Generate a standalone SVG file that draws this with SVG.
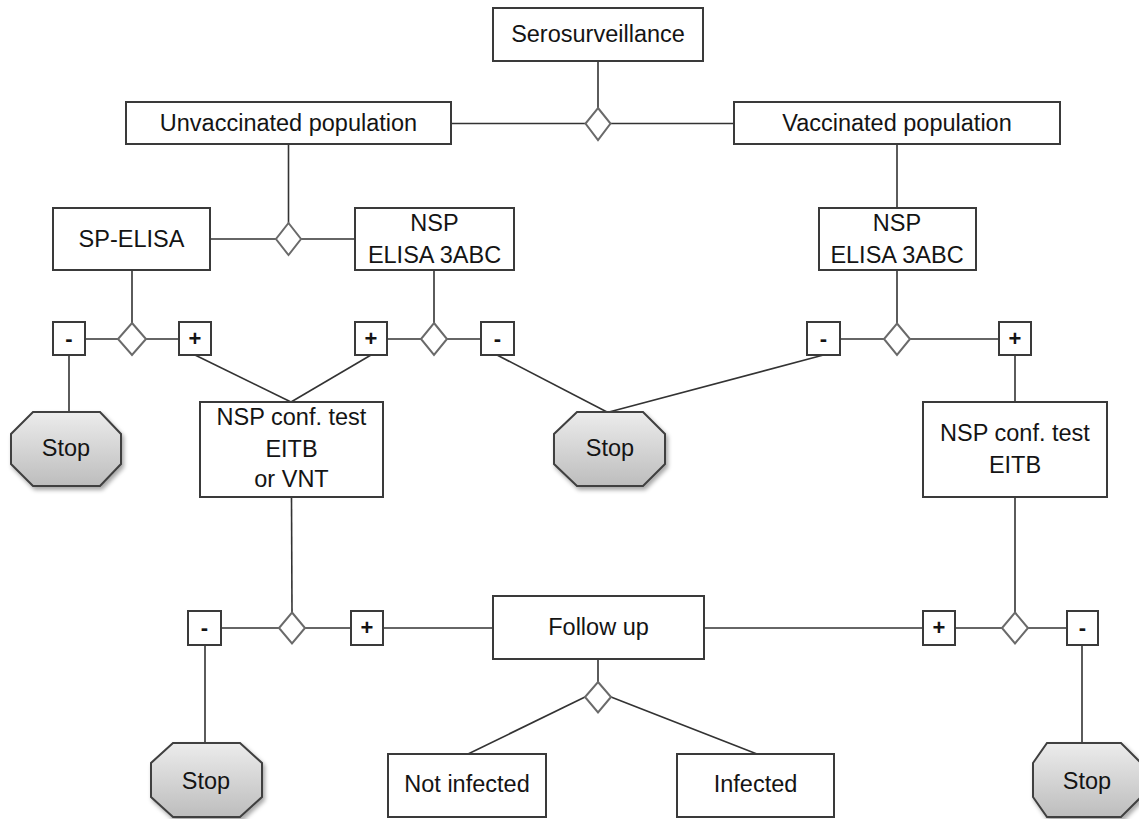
<svg xmlns="http://www.w3.org/2000/svg" width="1139" height="819" viewBox="0 0 1139 819">
<defs>
<style>
.box{fill:#fff;stroke:#3a3a3a;stroke-width:2}
.sign{fill:#fff;stroke:#3a3a3a;stroke-width:2}
.dia{fill:#fff;stroke:#6a6a6a;stroke-width:2}
.stop{fill:url(#stopGrad);stroke:#3f3f3f;stroke-width:2;filter:url(#shadow)}
.conn line,.conn polyline{stroke:#333;stroke-width:1.6;fill:none}
text{font-family:"Liberation Sans",Arial,sans-serif;font-size:23.5px;fill:#141414;text-anchor:middle}
text.s{font-weight:bold;font-size:22px}
</style>
<linearGradient id="stopGrad" x1="0" y1="0" x2="0" y2="1">
<stop offset="0" stop-color="#ececec"/>
<stop offset="1" stop-color="#bdbdbd"/>
</linearGradient>
<filter id="shadow" x="-10%" y="-10%" width="130%" height="130%">
<feDropShadow dx="2" dy="3" stdDeviation="2" flood-color="#000" flood-opacity="0.35"/>
</filter>
</defs>
<rect width="1139" height="819" fill="#fff"/>

<g class="conn" id="connectors">
<line x1="598" y1="61" x2="598" y2="108"/>
<line x1="451" y1="123.5" x2="585.5" y2="123.5"/>
<line x1="610.5" y1="123.5" x2="734" y2="123.5"/>
<line x1="288.5" y1="144" x2="288.5" y2="223"/>
<line x1="210" y1="239" x2="276" y2="239"/>
<line x1="301" y1="239" x2="355" y2="239"/>
<line x1="897" y1="144" x2="897" y2="208"/>
<line x1="132" y1="270" x2="132" y2="323"/>
<line x1="85" y1="339" x2="118" y2="339"/>
<line x1="146" y1="339" x2="179" y2="339"/>
<line x1="69" y1="355" x2="69" y2="412"/>
<line x1="195" y1="355" x2="291" y2="402"/>
<line x1="371" y1="355" x2="291" y2="402"/>
<line x1="434" y1="270" x2="434" y2="323"/>
<line x1="387" y1="339" x2="421" y2="339"/>
<line x1="447" y1="339" x2="481" y2="339"/>
<line x1="497" y1="355" x2="607" y2="412"/>
<line x1="897" y1="270" x2="897" y2="323.5"/>
<line x1="840" y1="339" x2="884" y2="339"/>
<line x1="910" y1="339" x2="999" y2="339"/>
<line x1="1015" y1="355" x2="1015" y2="402"/>
<line x1="823.5" y1="355" x2="609" y2="412"/>
<line x1="291.5" y1="497" x2="292" y2="612.5"/>
<line x1="221" y1="628" x2="279" y2="628"/>
<line x1="305" y1="628" x2="351" y2="628"/>
<line x1="383" y1="628" x2="493" y2="628"/>
<line x1="205" y1="645" x2="205" y2="743"/>
<line x1="598" y1="659" x2="598" y2="682"/>
<line x1="585" y1="697" x2="468" y2="754"/>
<line x1="611" y1="697" x2="757" y2="754"/>
<line x1="704" y1="628" x2="923" y2="628"/>
<line x1="955" y1="628" x2="1002" y2="628"/>
<line x1="1028" y1="628" x2="1067" y2="628"/>
<line x1="1015" y1="497" x2="1015" y2="612.5"/>
<line x1="1082" y1="645" x2="1082" y2="743"/>
</g>

<g id="d1"><polygon class="dia" points="598,108 610.5,123.5 598,140 585.5,123.5"/></g>
<g id="d2"><polygon class="dia" points="288.5,223 301,239 288.5,255 276,239"/></g>
<g id="d3"><polygon class="dia" points="132,323 146,339 132,355 118,339"/></g>
<g id="d4"><polygon class="dia" points="434,323 447,339 434,355 421,339"/></g>
<g id="d5"><polygon class="dia" points="897,323.5 910,339 897,355 884,339"/></g>
<g id="d6"><polygon class="dia" points="292,612.5 305,628 292,643.5 279,628"/></g>
<g id="d7"><polygon class="dia" points="598,682 611,697 598,712.5 585,697"/></g>
<g id="d8"><polygon class="dia" points="1015,612.5 1028,628 1015,643.5 1002,628"/></g>

<g id="serosurveillance"><rect class="box" x="493" y="8" width="210" height="53"/><text x="598" y="42">Serosurveillance</text></g>
<g id="unvaccinated"><rect class="box" x="126" y="102" width="325" height="42"/><text x="288.5" y="131">Unvaccinated population</text></g>
<g id="vaccinated"><rect class="box" x="734" y="102" width="326" height="42"/><text x="897" y="131">Vaccinated population</text></g>
<g id="sp-elisa"><rect class="box" x="53" y="208" width="157" height="62"/><text x="131.5" y="247">SP-ELISA</text></g>
<g id="nsp-left"><rect class="box" x="355" y="208" width="159" height="62"/><text x="434.5" y="231">NSP</text><text x="434.5" y="263">ELISA 3ABC</text></g>
<g id="nsp-right"><rect class="box" x="819" y="208" width="157" height="62"/><text x="897" y="231">NSP</text><text x="897" y="263">ELISA 3ABC</text></g>

<g id="s1"><rect class="sign" x="53" y="322" width="32" height="33"/><text class="s" x="69" y="346">-</text></g>
<g id="s2"><rect class="sign" x="179" y="322" width="32" height="33"/><text class="s" x="195" y="346">+</text></g>
<g id="s3"><rect class="sign" x="355" y="322" width="32" height="33"/><text class="s" x="371" y="346">+</text></g>
<g id="s4"><rect class="sign" x="481" y="322" width="33" height="33"/><text class="s" x="497.5" y="346">-</text></g>
<g id="s5"><rect class="sign" x="807" y="322" width="33" height="33"/><text class="s" x="823.5" y="346">-</text></g>
<g id="s6"><rect class="sign" x="999" y="322" width="32" height="33"/><text class="s" x="1015" y="346">+</text></g>

<g id="stop1"><polygon class="stop" points="33,412 100,412 121,434 121,464 100,486 33,486 11,464 11,434"/><text x="66" y="456">Stop</text></g>
<g id="stop2"><polygon class="stop" points="577,412 643,412 665,434 665,464 643,486 577,486 554,464 554,434"/><text x="610" y="456">Stop</text></g>

<g id="conf-left"><rect class="box" x="200" y="402" width="183" height="95"/><text x="291.5" y="425">NSP conf. test</text><text x="291.5" y="457">EITB</text><text x="291.5" y="487">or VNT</text></g>
<g id="conf-right"><rect class="box" x="923" y="402" width="184" height="95"/><text x="1015" y="441">NSP conf. test</text><text x="1015" y="473">EITB</text></g>

<g id="s7"><rect class="sign" x="188" y="611" width="33" height="34"/><text class="s" x="204.5" y="635">-</text></g>
<g id="s8"><rect class="sign" x="351" y="611" width="32" height="34"/><text class="s" x="367" y="635">+</text></g>
<g id="s9"><rect class="sign" x="923" y="611" width="32" height="34"/><text class="s" x="939" y="635">+</text></g>
<g id="s10"><rect class="sign" x="1067" y="611" width="31" height="34"/><text class="s" x="1082.5" y="635">-</text></g>

<g id="follow-up"><rect class="box" x="493" y="596" width="211" height="63"/><text x="598.5" y="635">Follow up</text></g>
<g id="not-infected"><rect class="box" x="388" y="754" width="158" height="63"/><text x="467" y="792">Not infected</text></g>
<g id="infected"><rect class="box" x="677" y="754" width="157" height="63"/><text x="755.5" y="792">Infected</text></g>

<g id="stop3"><polygon class="stop" points="173,743 240,743 262,763 262,797 240,817 173,817 151,797 151,763"/><text x="206" y="789">Stop</text></g>
<g id="stop4"><polygon class="stop" points="1047,743 1121,743 1141,763 1141,797 1121,817 1047,817 1033,797 1033,763"/><text x="1087" y="789">Stop</text></g>
</svg>
